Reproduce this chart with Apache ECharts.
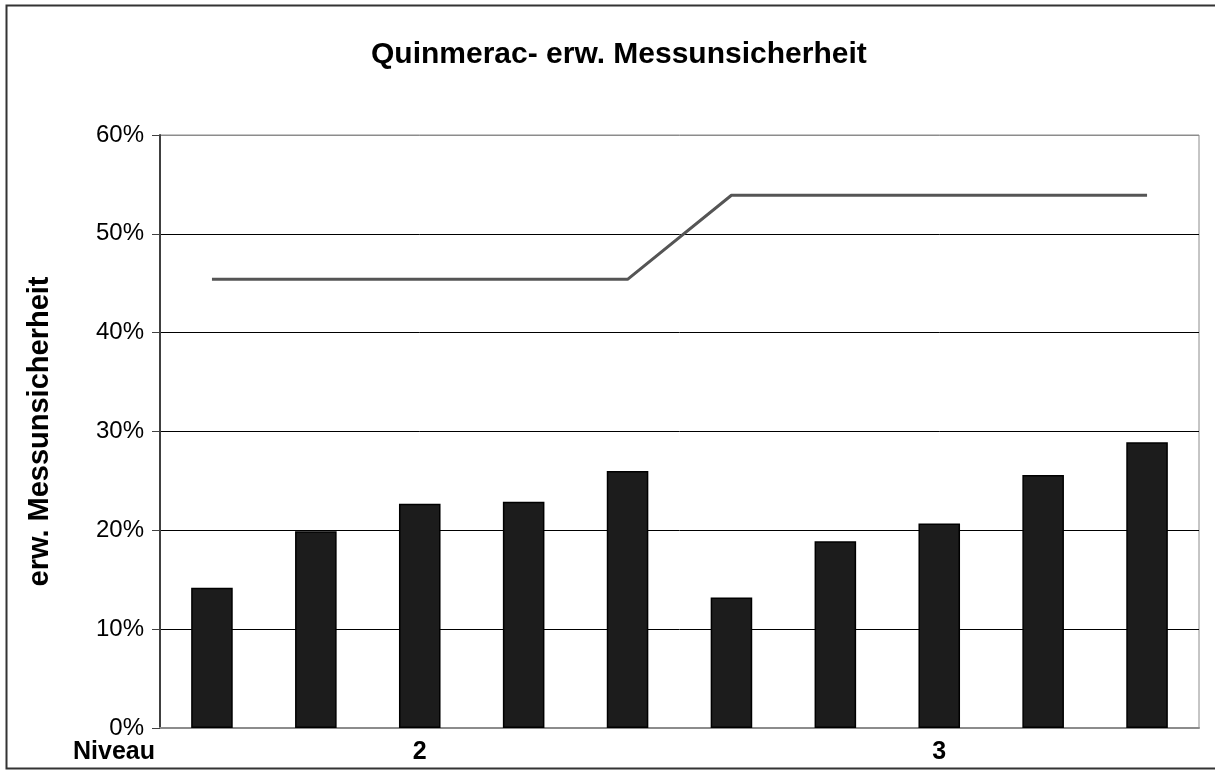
<!DOCTYPE html>
<html>
<head>
<meta charset="utf-8">
<script src="https://cdn.jsdelivr.net/npm/echarts@6/dist/echarts.min.js"></script>
<style>
html,body{margin:0;padding:0;background:#fff;}
#chart{width:1215px;height:770px;}
</style>
</head>
<body>
<div id="chart"></div>
<script>
// ---- data ----
const titleText = 'Quinmerac- erw. Messunsicherheit';
const yAxisTitle = 'erw. Messunsicherheit';
const levelAxisTitle = 'Niveau';
const samples = ['1','2','3','4','5','6','7','8','9','10'];
const levels = ['2', '3'];
const uncertainty = [14.2, 19.9, 22.7, 22.9, 26.0, 13.2, 18.9, 20.7, 25.6, 28.9];   // %
const limitValues = [45.4, 45.4, 45.4, 45.4, 45.4, 53.9, 53.9, 53.9, 53.9, 53.9]; // %
const yTicks = { min: 0, max: 60, step: 10 };

const FONT = 'Liberation Sans, Arial, sans-serif';
const chart = echarts.init(document.getElementById('chart'), null, {renderer: 'canvas'});
chart.setOption({
  animation: false,
  backgroundColor: '#fff',
  title: {
    text: titleText, left: 366, top: 35,
    textStyle: {fontFamily: FONT, fontSize: 30, fontWeight: 'bold', color: '#000'}
  },
  grid: {left: 160, right: 16, top: 135, bottom: 42, show: true, borderColor: '#8c8c8c', borderWidth: 1},
  xAxis: [
    {
      type: 'category', data: samples, position: 'bottom',
      axisLine: {show: true, lineStyle: {color: '#8c8c8c', width: 2}},
      axisTick: {show: false}, axisLabel: {show: false}, splitLine: {show: false}
    },
    {
      type: 'category', data: levels, position: 'bottom',
      axisLine: {show: false}, axisTick: {show: false},
      axisLabel: {margin: 12, fontFamily: FONT, fontSize: 25, fontWeight: 'bold', color: '#000'}
    }
  ],
  yAxis: {
    type: 'value', min: yTicks.min, max: yTicks.max, interval: yTicks.step,
    name: yAxisTitle, nameLocation: 'middle', nameRotate: 90, nameGap: 106,
    nameTextStyle: {fontFamily: FONT, fontSize: 29, fontWeight: 'bold', color: '#000'},
    axisLine: {show: true, lineStyle: {color: '#404040', width: 2}},
    axisTick: {show: true, inside: false, length: 8, lineStyle: {color: '#404040', width: 1}},
    axisLabel: {formatter: '{value}%', margin: 16, fontFamily: FONT, fontSize: 24, color: '#000'},
    splitLine: {show: true, lineStyle: {color: ['#8c8c8c','#000','#000','#000','#000','#000','#8c8c8c'], width: 1}}
  },
  series: [
    {
      type: 'bar', xAxisIndex: 0, data: uncertainty, barWidth: '40%',
      itemStyle: {color: '#1c1c1c', borderColor: '#000', borderWidth: 1.5}
    },
    {
      type: 'line', xAxisIndex: 0, data: limitValues, symbol: 'none',
      lineStyle: {color: '#555555', width: 3}
    }
  ],
  graphic: [
    {type: 'rect', shape: {x: 6.5, y: 5.5, width: 1215, height: 763}, style: {fill: 'none', stroke: '#333', lineWidth: 2}, silent: true},
    {type: 'text', x: 155, y: 752, style: {text: levelAxisTitle, align: 'right', verticalAlign: 'middle', font: 'bold 25px ' + FONT, fill: '#000'}}
  ]
});
</script>
</body>
</html>
